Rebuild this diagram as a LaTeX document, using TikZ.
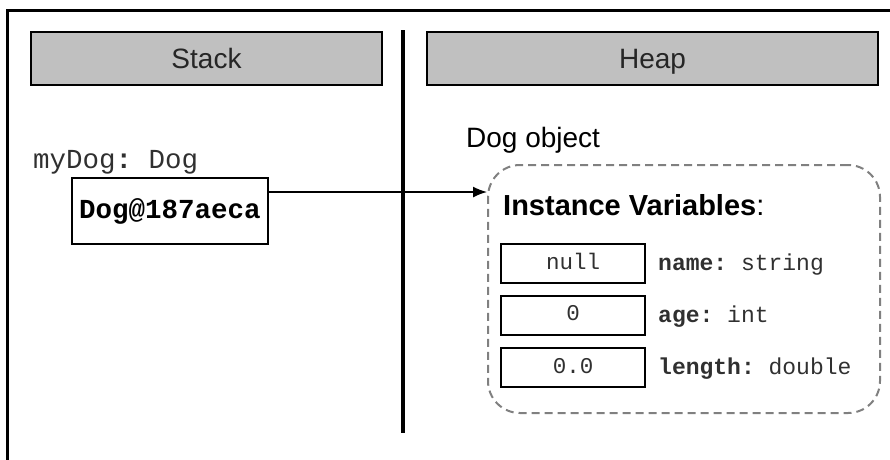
\documentclass[tikz,border=0pt]{standalone}
\usepackage{fontspec}
\setmainfont{Liberation Sans}
\setmonofont{Liberation Mono}
\usetikzlibrary{arrows.meta}
\definecolor{hdrgray}{HTML}{C0C0C0}
\definecolor{dashgray}{HTML}{808080}
\definecolor{codegray}{HTML}{303030}
\tikzset{
  hdr/.style={draw=black, line width=2pt, fill=hdrgray, minimum height=53pt, inner sep=0pt,
    text height=22pt, text depth=3pt,
    font=\fontsize{28}{32}\selectfont, text=black!85},
  refbox/.style={draw=black, line width=1.5pt, minimum width=196pt, minimum height=66pt, inner sep=0pt,
    font=\fontsize{27.5}{32}\selectfont\ttfamily\bfseries},
  valbox/.style={draw=black, line width=2pt, minimum width=144pt, minimum height=39pt, inner sep=0pt,
    text height=15pt, text depth=4pt,
    font=\fontsize{22.5}{26}\selectfont\ttfamily, text=codegray},
  lbl/.style={anchor=base west, inner sep=0pt, font=\fontsize{23}{26}\selectfont\ttfamily, text=codegray},
  sanslbl/.style={anchor=base west, inner sep=0pt, font=\fontsize{28}{32}\selectfont},
  objbox/.style={draw=dashgray, line width=2pt, dash pattern=on 8pt off 5pt, rounded corners=32pt,
    minimum width=392pt, minimum height=248pt, inner sep=0pt},
  ptr/.style={line width=1.5pt, -{Latex[length=14pt,width=11pt]}},
  frame/.style={line width=3pt},
  divider/.style={line width=4pt}
}
\begin{document}
\begin{tikzpicture}[x=1pt,y=-1pt]
\useasboundingbox (0,0) rectangle (890,459);
% frame
\coordinate (ftl) at (7,10);
\coordinate (ftr) at (892,10);
\coordinate (fbl) at (7,461);
\draw[frame] (ftr) -- (ftl) -- (fbl);
% divider
\coordinate (dtop) at (403,30);
\coordinate (dbot) at (403,433);
\draw[divider] (dtop) -- (dbot);
% headers
\node[hdr, minimum width=351pt] (stack) at (206.5,58.5) {Stack};
\node[hdr, minimum width=451pt] (heap) at (652.5,58.5) {Heap};
% stack variable
\node[anchor=base west, inner sep=0pt, font=\fontsize{27.5}{32}\selectfont\ttfamily, text=codegray] (var) at (33,168) {myDog\textbf{:} Dog};
\node[refbox] (ref) at (170,211) {Dog@187aeca};
% heap object
\node[sanslbl] (objlbl) at (466,147) {Dog object};
\node[objbox] (obj) at (684,289) {};
\node[sanslbl, font=\fontsize{29}{32}\selectfont] (ivlbl) at (503,215) {\textbf{Instance Variables}:};
\node[valbox] (v1) at (573,263.5) {null};
\node[valbox] (v2) at (573,315) {0};
\node[valbox] (v3) at (573,367.5) {0.0};
\node[lbl] (l1) at (658,270) {\textbf{name:} string};
\node[lbl] (l2) at (658,322) {\textbf{age:} int};
\node[lbl] (l3) at (658,374) {\textbf{length:} double};
% pointer
\draw[ptr] ([yshift=19pt]ref.east) -- ([yshift=19pt]ref.east -| obj.west);
\end{tikzpicture}
\end{document}
